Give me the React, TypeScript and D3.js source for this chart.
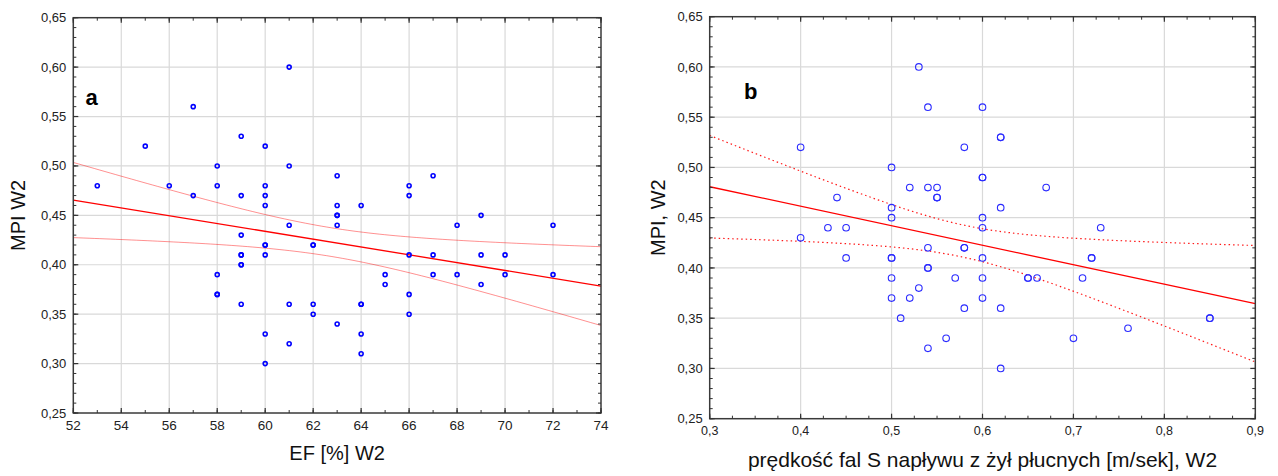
import React from "react";
import * as d3 from "d3";

// ---------- Panel a data: EF [%] W2 vs MPI W2 ----------
const EF_A = [
  53, 55, 56, 57, 57, 58, 58, 58, 58, 58,
  59, 59, 59, 59, 59, 59, 59, 59,
  60, 60, 60, 60, 60, 60, 60, 60, 60,
  61, 61, 61, 61, 61,
  62, 62, 62, 62,
  63, 63, 63, 63, 63, 63,
  64, 64, 64, 64, 64,
  65, 65,
  66, 66, 66, 66, 66,
  67, 67, 67,
  68, 68,
  69, 69, 69,
  70, 70,
  72, 72,
];
const MPI_A = [
  0.48, 0.52, 0.48, 0.56, 0.47, 0.50, 0.48, 0.39, 0.37, 0.37,
  0.53, 0.47, 0.43, 0.41, 0.41, 0.40, 0.40, 0.36,
  0.52, 0.48, 0.47, 0.46, 0.42, 0.42, 0.41, 0.33, 0.30,
  0.60, 0.50, 0.44, 0.36, 0.32,
  0.42, 0.42, 0.36, 0.35,
  0.49, 0.46, 0.45, 0.45, 0.44, 0.34,
  0.46, 0.36, 0.36, 0.33, 0.31,
  0.39, 0.38,
  0.48, 0.47, 0.41, 0.37, 0.35,
  0.49, 0.41, 0.39,
  0.44, 0.39,
  0.45, 0.41, 0.38,
  0.41, 0.39,
  0.44, 0.39,
];

// ---------- Panel b data: S-wave velocity vs MPI, W2 ----------
const VS_B = [
  0.53, 0.54, 0.60, 0.62, 0.62, 0.40, 0.58, 0.50, 0.60, 0.60,
  0.52, 0.54, 0.55, 0.67, 0.44, 0.55, 0.55, 0.50, 0.62, 0.50,
  0.60, 0.43, 0.45, 0.60, 0.73, 0.40, 0.54, 0.58, 0.58, 0.45,
  0.50, 0.50, 0.60, 0.72, 0.72, 0.54, 0.54, 0.50, 0.57, 0.60,
  0.65, 0.65, 0.66, 0.71, 0.53, 0.50, 0.52, 0.60, 0.58, 0.62,
  0.51, 0.85, 0.85, 0.76, 0.56, 0.70, 0.54, 0.62,
];
const MPI_B = [
  0.60, 0.56, 0.56, 0.53, 0.53, 0.52, 0.52, 0.50, 0.49, 0.49,
  0.48, 0.48, 0.48, 0.48, 0.47, 0.47, 0.47, 0.46, 0.46, 0.45,
  0.45, 0.44, 0.44, 0.44, 0.44, 0.43, 0.42, 0.42, 0.42, 0.41,
  0.41, 0.41, 0.41, 0.41, 0.41, 0.40, 0.40, 0.39, 0.39, 0.39,
  0.39, 0.39, 0.39, 0.39, 0.38, 0.37, 0.37, 0.37, 0.36, 0.36,
  0.35, 0.35, 0.35, 0.34, 0.33, 0.33, 0.32, 0.30,
];

// ---------- Regression lines and 95% bands ----------
const FIT_A = { x0: 52, y0: 0.4655, x1: 74, y1: 0.3784 };
const BAND_A = { center: 62.7, minHalf: 0.0145, curvature: 1.08e-5 };
const FIT_B = { x0: 0.3, y0: 0.4808, x1: 0.9, y1: 0.3644 };
const BAND_B = { center: 0.579, minHalf: 0.016, curvature: 0.0301 };

// ---------- Axes ----------
const X_TICKS_A = [52, 54, 56, 58, 60, 62, 64, 66, 68, 70, 72, 74];
const X_TICKS_B = [0.3, 0.4, 0.5, 0.6, 0.7, 0.8, 0.9];
const Y_TICKS = [0.25, 0.3, 0.35, 0.4, 0.45, 0.5, 0.55, 0.6, 0.65];

const X_LABEL_A = "EF [%] W2";
const Y_LABEL_A = "MPI W2";
const X_LABEL_B = "prędkość fal S napływu z żył płucnych [m/sek], W2";
const Y_LABEL_B = "MPI, W2";

const FONT = "'Liberation Sans', Arial, Helvetica, sans-serif";
const plLocale = d3.formatLocale({
  decimal: ",",
  thousands: " ",
  grouping: [3],
  currency: ["", ""],
});

type PanelProps = {
  xs: number[];
  ys: number[];
  fit: { x0: number; y0: number; x1: number; y1: number };
  band: { center: number; minHalf: number; curvature: number };
  box: { left: number; top: number; right: number; bottom: number };
  xDomain: [number, number];
  xTicks: number[];
  xMinorStep: number;
  xFormat: string;
  xFontSize: number;
  xLabelDy: number;
  yLabelDx: number;
  xTitle: string;
  yTitle: string;
  xTitleY: number;
  xTitleSize: number;
  yTitleX: number;
  letter: string;
  letterPos: [number, number];
  marker: { r: number; stroke: string; width: number };
  bandStyle: { width: number; dash?: string; opacity: number };
};

function Panel(p: PanelProps) {
  const { box } = p;
  const x = d3.scaleLinear().domain(p.xDomain).range([box.left, box.right]);
  const y = d3.scaleLinear().domain([0.25, 0.65]).range([box.bottom, box.top]);
  const fx = plLocale.format(p.xFormat);
  const fy = plLocale.format(".2f");

  const nxMinor = Math.round((p.xDomain[1] - p.xDomain[0]) / p.xMinorStep);
  const xMinor = d3.range(nxMinor + 1).map((i) => p.xDomain[0] + i * p.xMinorStep);
  const yMinor = d3.range(41).map((i) => 0.25 + i * 0.01);

  const slope = (p.fit.y1 - p.fit.y0) / (p.fit.x1 - p.fit.x0);
  const fitAt = (v: number) => p.fit.y0 + slope * (v - p.fit.x0);
  const half = (v: number) =>
    Math.sqrt(p.band.minHalf ** 2 + p.band.curvature * (v - p.band.center) ** 2);
  const samples = d3.range(101).map((i) => p.xDomain[0] + ((p.xDomain[1] - p.xDomain[0]) * i) / 100);
  const line = d3
    .line<[number, number]>()
    .x((d) => x(d[0]))
    .y((d) => y(d[1]));
  const upper = line(samples.map((v) => [v, fitAt(v) + half(v)] as [number, number]));
  const lower = line(samples.map((v) => [v, fitAt(v) - half(v)] as [number, number]));
  const fitPath = line([
    [p.xDomain[0], fitAt(p.xDomain[0])],
    [p.xDomain[1], fitAt(p.xDomain[1])],
  ]);

  const clipId = "clip-" + p.letter;
  const tickCol = "#333";

  return (
    <g>
      <defs>
        <clipPath id={clipId}>
          <rect x={box.left} y={box.top} width={box.right - box.left} height={box.bottom - box.top} />
        </clipPath>
      </defs>
      {/* grid */}
      {p.xTicks.slice(1, -1).map((t) => (
        <line key={"gx" + t} x1={x(t)} x2={x(t)} y1={box.top} y2={box.bottom} stroke="#d9d9d9" strokeWidth={1.2} />
      ))}
      {Y_TICKS.slice(1, -1).map((t) => (
        <line key={"gy" + t} x1={box.left} x2={box.right} y1={y(t)} y2={y(t)} stroke="#d9d9d9" strokeWidth={1.2} />
      ))}
      {/* regression */}
      <g clipPath={`url(#${clipId})`}>
        <path d={upper || ""} fill="none" stroke="#ff0000" strokeWidth={p.bandStyle.width} strokeDasharray={p.bandStyle.dash} opacity={p.bandStyle.opacity} />
        <path d={lower || ""} fill="none" stroke="#ff0000" strokeWidth={p.bandStyle.width} strokeDasharray={p.bandStyle.dash} opacity={p.bandStyle.opacity} />
        <path d={fitPath || ""} fill="none" stroke="#ff0000" strokeWidth={1.3} />
      </g>
      {/* points */}
      {p.xs.map((v, i) => (
        <circle key={"pt" + i} cx={x(v)} cy={y(p.ys[i])} r={p.marker.r} fill="none" stroke={p.marker.stroke} strokeWidth={p.marker.width} />
      ))}
      {/* frame */}
      <rect x={box.left} y={box.top} width={box.right - box.left} height={box.bottom - box.top} fill="none" stroke="#3a3a3a" strokeWidth={1.5} />
      {/* minor ticks */}
      {xMinor.map((t, i) => (
        <g key={"mx" + i}>
          <line x1={x(t)} x2={x(t)} y1={box.bottom} y2={box.bottom - 3} stroke={tickCol} strokeWidth={1} />
          <line x1={x(t)} x2={x(t)} y1={box.top} y2={box.top + 3} stroke={tickCol} strokeWidth={1} />
        </g>
      ))}
      {yMinor.map((t, i) => (
        <g key={"my" + i}>
          <line x1={box.left} x2={box.left + 3} y1={y(t)} y2={y(t)} stroke={tickCol} strokeWidth={1} />
          <line x1={box.right} x2={box.right - 3} y1={y(t)} y2={y(t)} stroke={tickCol} strokeWidth={1} />
        </g>
      ))}
      {/* major ticks */}
      {p.xTicks.map((t) => (
        <g key={"Mx" + t}>
          <line x1={x(t)} x2={x(t)} y1={box.bottom} y2={box.bottom - 5} stroke={tickCol} strokeWidth={1.2} />
          <line x1={x(t)} x2={x(t)} y1={box.top} y2={box.top + 5} stroke={tickCol} strokeWidth={1.2} />
        </g>
      ))}
      {Y_TICKS.map((t) => (
        <g key={"My" + t}>
          <line x1={box.left} x2={box.left + 5} y1={y(t)} y2={y(t)} stroke={tickCol} strokeWidth={1.2} />
          <line x1={box.right} x2={box.right - 5} y1={y(t)} y2={y(t)} stroke={tickCol} strokeWidth={1.2} />
        </g>
      ))}
      {/* tick labels */}
      {p.xTicks.map((t) => (
        <text key={"lx" + t} x={x(t)} y={box.bottom + p.xLabelDy} textAnchor="middle" fontFamily={FONT} fontSize={p.xFontSize} fill="#222">
          {fx(t)}
        </text>
      ))}
      {Y_TICKS.map((t) => (
        <text key={"ly" + t} x={box.left - p.yLabelDx} y={y(t)} dy="0.35em" textAnchor="end" fontFamily={FONT} fontSize={13} fill="#222">
          {fy(t)}
        </text>
      ))}
      {/* titles */}
      <text x={(box.left + box.right) / 2} y={p.xTitleY} textAnchor="middle" fontFamily={FONT} fontSize={p.xTitleSize} fill="#111">
        {p.xTitle}
      </text>
      <text
        transform={`translate(${p.yTitleX},${(box.top + box.bottom) / 2}) rotate(-90)`}
        textAnchor="middle"
        fontFamily={FONT}
        fontSize={20}
        fill="#111"
      >
        {p.yTitle}
      </text>
      <text x={p.letterPos[0]} y={p.letterPos[1]} fontFamily={FONT} fontSize={22} fontWeight="bold" fill="#000">
        {p.letter}
      </text>
    </g>
  );
}

export default function App() {
  return (
    <svg
      width={1278}
      height={476}
      viewBox="0 0 1278 476"
      style={{ position: "absolute", left: 0, top: 0, background: "#fff" }}
    >
      <rect x={0} y={0} width={1278} height={476} fill="#fff" />
      <Panel
        xs={EF_A}
        ys={MPI_A}
        fit={FIT_A}
        band={BAND_A}
        box={{ left: 73.3, top: 17.7, right: 601, bottom: 413 }}
        xDomain={[52, 74]}
        xTicks={X_TICKS_A}
        xMinorStep={1}
        xFormat=".0f"
        xFontSize={13.5}
        xLabelDy={17}
        yLabelDx={7}
        xTitle={X_LABEL_A}
        yTitle={Y_LABEL_A}
        xTitleY={460}
        xTitleSize={20}
        yTitleX={25}
        letter="a"
        letterPos={[85.5, 105]}
        marker={{ r: 2, stroke: "#0000ff", width: 1.6 }}
        bandStyle={{ width: 0.8, opacity: 0.55 }}
      />
      <Panel
        xs={VS_B}
        ys={MPI_B}
        fit={FIT_B}
        band={BAND_B}
        box={{ left: 709.7, top: 16.7, right: 1255.3, bottom: 418.7 }}
        xDomain={[0.3, 0.9]}
        xTicks={X_TICKS_B}
        xMinorStep={0.025}
        xFormat=".1f"
        xFontSize={12.5}
        xLabelDy={16}
        yLabelDx={7}
        xTitle={X_LABEL_B}
        yTitle={Y_LABEL_B}
        xTitleY={467}
        xTitleSize={21}
        yTitleX={665}
        letter="b"
        letterPos={[744, 99]}
        marker={{ r: 3.3, stroke: "#2a2aff", width: 1.1 }}
        bandStyle={{ width: 1.2, dash: "1.5 3", opacity: 0.9 }}
      />
    </svg>
  );
}
